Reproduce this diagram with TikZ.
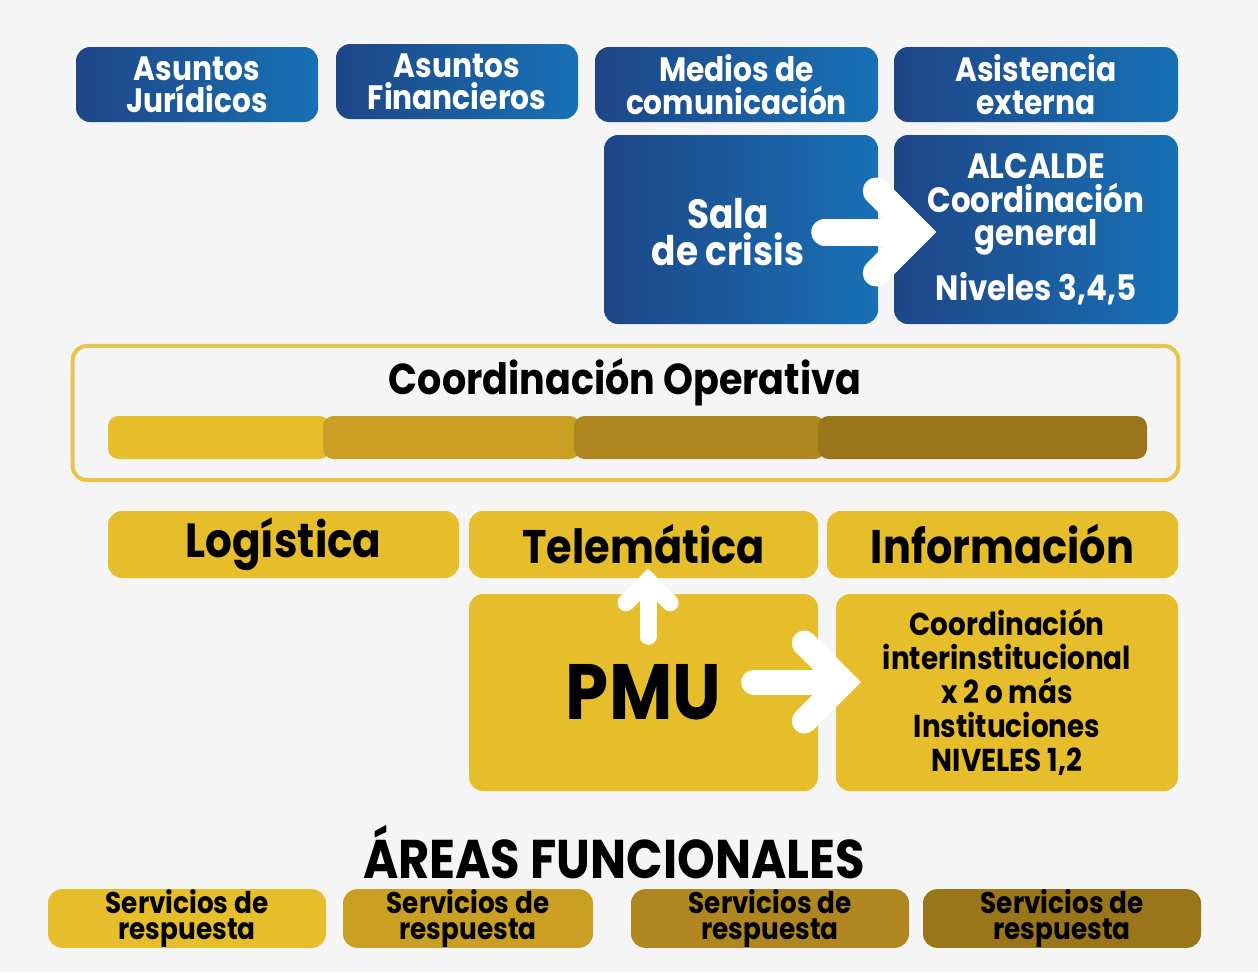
\documentclass[tikz,border=0pt]{standalone}
\usepackage{fontspec}
\setmainfont{Poppins}[FakeStretch=0.88]
\usetikzlibrary{calc}

\definecolor{bgcol}{HTML}{F5F5F5}
\definecolor{bluel}{HTML}{1E4687}
\definecolor{bluer}{HTML}{1871B5}
\definecolor{yelA}{HTML}{E6BD2A}
\definecolor{yelB}{HTML}{C9A023}
\definecolor{yelC}{HTML}{AF8620}
\definecolor{yelD}{HTML}{9A751A}
\definecolor{frame}{HTML}{E8C54A}

\tikzset{
  bluebox/.style={rounded corners=4pt, left color=bluel, right color=bluer, text=white,
    inner sep=0pt, align=center, font=\bfseries},
  yelbox/.style={rounded corners=4pt, fill=#1, text=black,
    inner sep=0pt, align=center, font=\bfseries},
  wide/.style={minimum width=#1*0.01cm},
  tall/.style={minimum height=#1*0.01cm},
  whitearrow/.style={draw=white, line width=#1*0.01cm, line cap=round, line join=miter}
}

\begin{document}
\begin{tikzpicture}[x=0.01cm, y=-0.01cm]
		%%%%% BACKGROUND %%%%%
		\fill[bgcol] (0,0) rectangle (1258,972);
		\useasboundingbox (0,0) rectangle (1258,972);

		%%%%% TOP (BLUE) %%%%%
		\node[bluebox, wide=242, tall=75, font=\bfseries\fontsize{9.6}{9.2}\selectfont] (jur) at (197,84.5) {Asuntos\\Jurídicos};
		\node[bluebox, wide=242, tall=75, font=\bfseries\fontsize{9.6}{9.2}\selectfont] (fin) at (457,81.5) {Asuntos\\Financieros};
		\node[bluebox, wide=283, tall=75, font=\bfseries\fontsize{9.6}{9.2}\selectfont] (med) at (736.5,84.5) {Medios de\\comunicación};
		\node[bluebox, wide=284, tall=75, font=\bfseries\fontsize{9.6}{9.2}\selectfont] (ext) at (1036,84.5) {Asistencia\\externa};

		\node[bluebox, wide=274, tall=189] (sala) at (741,229.5) {};
		\node[text=white, align=center, font=\bfseries\fontsize{11.6}{10.6}\selectfont] (salatxt) at (728,232) {Sala\\de crisis};
		\node[bluebox, wide=284, tall=189, font=\bfseries\fontsize{10}{9.4}\selectfont] (alc) at (1036,229.5)
			{ALCALDE\\Coordinación\\general\\[4pt]Niveles 3,4,5};

		% sala -> alcalde
		\coordinate (s1) at ($(sala.east)+(-54,2.5)$);
		\coordinate (s2) at ($(alc.west)+(24,2.5)$);
		\draw[whitearrow=27] (s1) -- (s2);
		\draw[whitearrow=27] ($(s2)+(-41,-41)$) -- (s2) -- ($(s2)+(-41,41)$);

		%%%%% COORDINACION OPERATIVA %%%%%
		\node[draw=frame, line width=0.4mm, rounded corners=4pt, minimum width=11.05cm, minimum height=1.34cm] (coop) at (625.5,413) {};
		\node[font=\bfseries\fontsize{12.3}{12}\selectfont] (cooptxt) at (625,382) {Coordinación Operativa};
		\fill[yelA, rounded corners=3pt] (108,416) rectangle (330,459);
		\fill[yelB, rounded corners=3pt] (323,416) rectangle (580,459);
		\fill[yelC, rounded corners=3pt] (574,416) rectangle (825,459);
		\fill[yelD, rounded corners=3pt] (818,416) rectangle (1147,459);

		%%%%% AREAS %%%%%
		\node[yelbox=yelA, wide=351, tall=67, font=\bfseries\fontsize{13.6}{13}\selectfont] (log) at (283.5,544.5) {Logística};
		\node[yelbox=yelA, wide=349, tall=67, font=\bfseries\fontsize{13.4}{13}\selectfont] (tel) at (643.5,544.5) {Telemática};
		\node[yelbox=yelA, wide=351, tall=67, font=\bfseries\fontsize{13.4}{13}\selectfont] (inf) at (1002.5,544.5) {Información};

		\node[yelbox=yelA, wide=349, tall=197, font=\bfseries\fontsize{22.3}{22}\selectfont] (pmu) at (643.5,692.5) {PMU};
		\node[yelbox=yelA, wide=342, tall=197, font=\bfseries\fontsize{9}{9.7}\selectfont] (coi) at (1007,692.5)
			{Coordinación\\interinstitucional\\x 2 o más\\Instituciones\\NIVELES 1,2};

		% pmu -> telematica
		\coordinate (p1) at ($(pmu.north)+(4.5,43)$);
		\coordinate (p2) at ($(tel.south)+(4.5,2)$);
		\draw[whitearrow=17] (p1) -- (p2);
		\draw[whitearrow=17] ($(p2)+(-22,22)$) -- (p2) -- ($(p2)+(22,22)$);

		% pmu -> coordinacion
		\coordinate (q1) at ($(pmu.east)+(-65,-10.5)$);
		\coordinate (q2) at ($(coi.west)+(8,-10.5)$);
		\draw[whitearrow=25] (q1) -- (q2);
		\draw[whitearrow=25] ($(q2)+(-39,-39)$) -- (q2) -- ($(q2)+(-39,39)$);

		\node[font=\bfseries\fontsize{15.5}{15}\selectfont] (areas) at (614,852) {ÁREAS FUNCIONALES};

		\node[yelbox=yelA, wide=278, tall=55, font=\bfseries\fontsize{8.5}{7.6}\selectfont] (sv1) at (187,918.5) {Servicios de\\respuesta};
		\node[yelbox=yelB, wide=250, tall=55, font=\bfseries\fontsize{8.5}{7.6}\selectfont] (sv2) at (468,918.5) {Servicios de\\respuesta};
		\node[yelbox=yelC, wide=278, tall=55, font=\bfseries\fontsize{8.5}{7.6}\selectfont] (sv3) at (770,918.5) {Servicios de\\respuesta};
		\node[yelbox=yelD, wide=278, tall=55, font=\bfseries\fontsize{8.5}{7.6}\selectfont] (sv4) at (1062,918.5) {Servicios de\\respuesta};
	\end{tikzpicture}
\end{document}
